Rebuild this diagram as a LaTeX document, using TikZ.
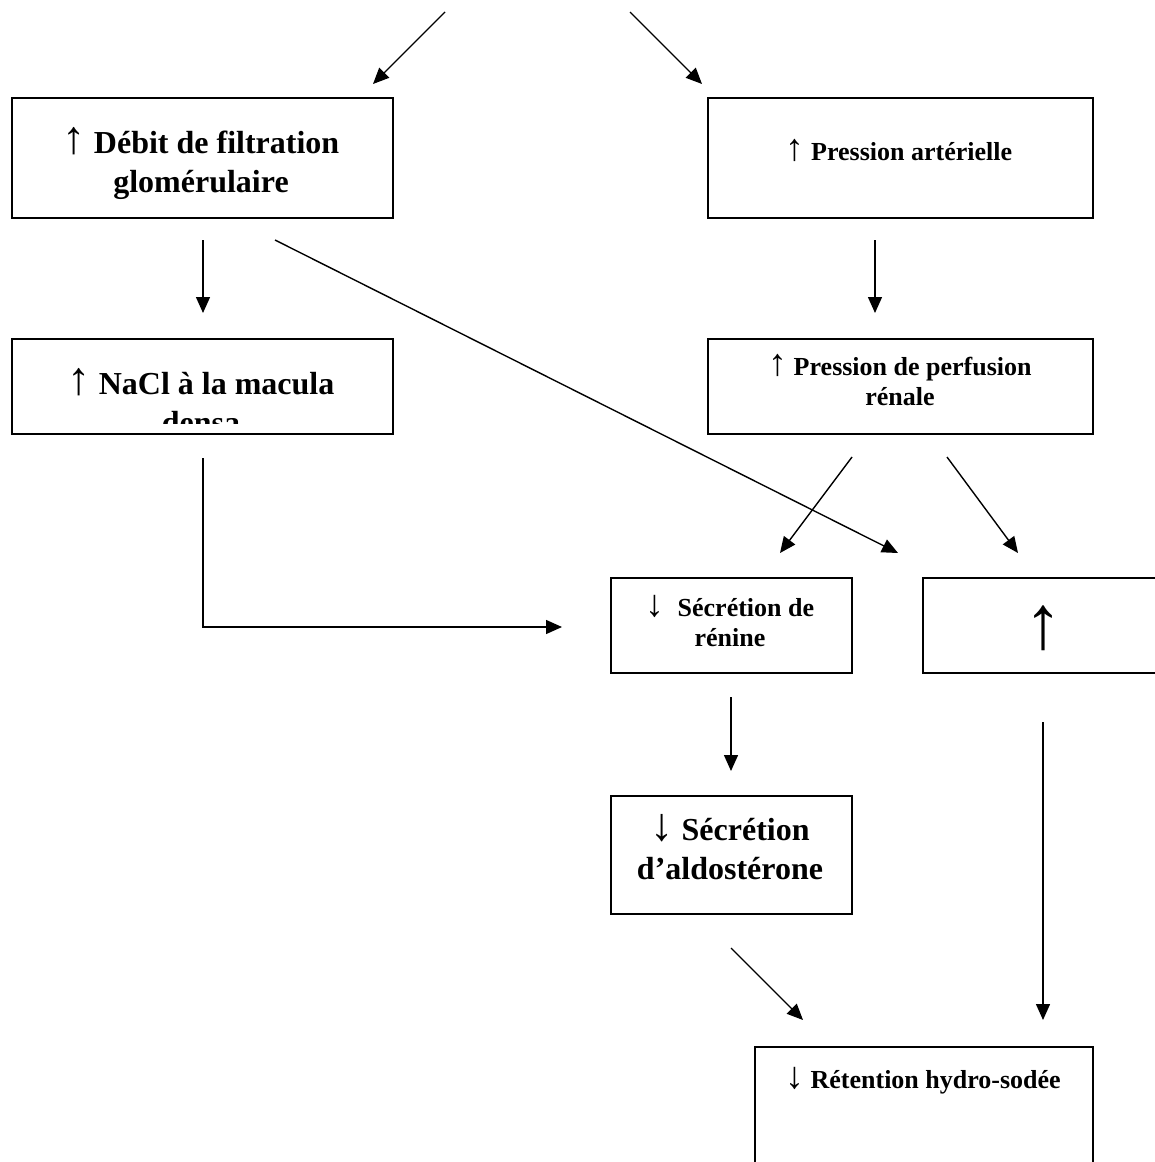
\documentclass[tikz,border=0pt]{standalone}
\usepackage{fontspec}
\setmainfont{Liberation Serif}
\usetikzlibrary{arrows.meta}
\newcommand\myup{{\mdseries\scalebox{1.45}{↑}}}
\newcommand\mydown{{\mdseries\scalebox{1.45}{↓}}}
\begin{document}
\begin{tikzpicture}[x=1pt,y=-1pt,
  box/.style={draw, line width=1.6pt, inner sep=0pt, anchor=north west},
  conn/.style={line width=1.4pt, -{Triangle[length=16pt,width=14pt]}},
  bigtxt/.style={inner sep=0pt, align=center, anchor=base, font=\bfseries\fontsize{32}{39}\selectfont},
  smalltxt/.style={inner sep=0pt, align=center, anchor=base, font=\bfseries\fontsize{26}{30}\selectfont}]
\clip (0,0) rectangle (1155,1162);
\fill[white] (0,0) rectangle (1155,1162);
% boxes
\node[box, minimum width=381pt, minimum height=120pt] (A) at (11,97) {};
\node[box, minimum width=385pt, minimum height=120pt] (B) at (707,97) {};
\node[box, minimum width=381pt, minimum height=95pt] (C) at (11,338) {};
\node[box, minimum width=385pt, minimum height=95pt] (D) at (707,338) {};
\node[box, minimum width=241pt, minimum height=95pt] (E) at (610,577) {};
\node[box, minimum width=260pt, minimum height=95pt] (F) at (922,577) {};
\node[box, minimum width=241pt, minimum height=118pt] (G) at (610,795) {};
\node[box, minimum width=338pt, minimum height=140pt] (H) at (754,1046) {};
% texts (anchor base = last line)
\node[bigtxt] (tA) at (201,192) {\myup\ Débit de filtration\\glomérulaire};
\node[smalltxt] (tB) at (899,160) {\myup\ Pression artérielle};
\begin{scope}
\clip (13,340) rectangle (390,423);
\node[bigtxt] (tC) at (201,433) {\myup\ NaCl à la macula\\densa};
\end{scope}
\node[smalltxt] (tD) at (900,405) {\myup\ Pression de perfusion\\rénale};
\node[smalltxt] (tE) at (730,646) {\mydown\ \ Sécrétion de\\rénine};
\node[inner sep=0pt, anchor=center, font=\fontsize{76}{80}\selectfont] (tF) at (1043,628) {↑};
\node[bigtxt] (tG) at (730,879) {\mydown\ Sécrétion\\d’aldostérone};
\node[smalltxt] (tH) at (923,1088) {\mydown\ Rétention hydro-sodée};
% connector ends
\coordinate (s1) at (445,12);  \coordinate (e1) at (373,84);
\coordinate (s2) at (630,12);  \coordinate (e2) at (702,84);
\coordinate (s3) at (203,240); \coordinate (e3) at (203,313);
\coordinate (s4) at (875,240); \coordinate (e4) at (875,313);
\coordinate (s5) at (275,240); \coordinate (e5) at (898,553);
\coordinate (s6) at (852,457); \coordinate (e6) at (780,553);
\coordinate (s7) at (947,457); \coordinate (e7) at (1018,553);
\coordinate (s8) at (203,458); \coordinate (e8) at (562,627);
\coordinate (s9) at (731,697); \coordinate (e9) at (731,771);
\coordinate (s10) at (1043,722); \coordinate (e10) at (1043,1020);
\coordinate (s11) at (731,948); \coordinate (e11) at (803,1020);
% connectors
\draw[conn] (s1) -- (e1);
\draw[conn] (s2) -- (e2);
\draw[conn] (s3) -- (e3);
\draw[conn] (s4) -- (e4);
\draw[conn] (s5) -- (e5);
\draw[conn] (s6) -- (e6);
\draw[conn] (s7) -- (e7);
\draw[conn] (s8) |- (e8);
\draw[conn] (s9) -- (e9);
\draw[conn] (s10) -- (e10);
\draw[conn] (s11) -- (e11);
\end{tikzpicture}
\end{document}
